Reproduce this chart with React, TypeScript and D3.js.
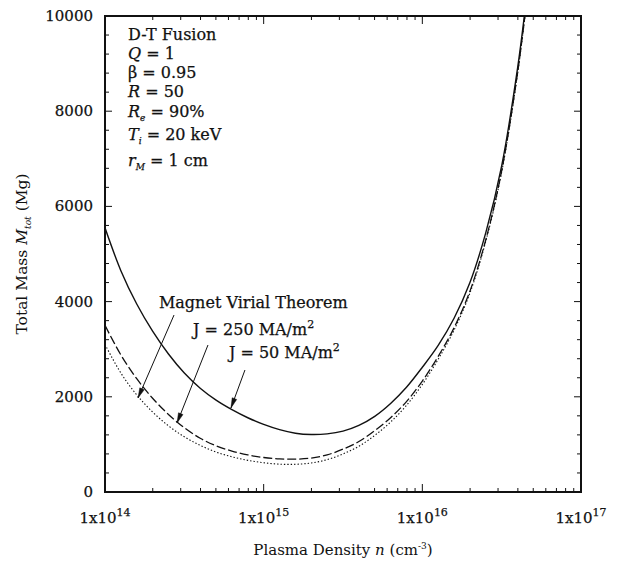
import React from "react";
import * as d3 from "d3";

// log10 of plasma density (cm^-3)
const densityExp = [14.0, 14.1, 14.2, 14.3, 14.4, 14.5, 14.6, 14.7, 14.8, 14.9, 15.0, 15.1, 15.2, 15.3, 15.4, 15.5, 15.6, 15.7, 15.8, 15.9, 16.0, 16.1, 16.2, 16.3, 16.4, 16.5, 16.6, 16.65];
// Total mass (Mg)
const massJ50 = [5550, 4650, 3950, 3380, 2900, 2500, 2180, 1930, 1730, 1560, 1420, 1310, 1235, 1208, 1222, 1280, 1400, 1590, 1860, 2200, 2620, 3080, 3650, 4400, 5450, 6850, 8900, 10200];
const massJ250 = [3500, 2880, 2380, 1970, 1630, 1350, 1130, 970, 860, 780, 725, 695, 690, 712, 780, 900, 1060, 1290, 1560, 1900, 2330, 2850, 3450, 4220, 5300, 6750, 8800, 10100];
const massVirial = [3100, 2500, 2040, 1680, 1390, 1160, 980, 840, 740, 665, 615, 585, 582, 610, 680, 800, 960, 1190, 1470, 1820, 2260, 2790, 3400, 4180, 5270, 6720, 8780, 10080];

const xTickExps = [14, 15, 16, 17];
const yTicks = [0, 2000, 4000, 6000, 8000, 10000];

// annotations (positions in data units: log10 density, mass)
const annoLabels = ["Magnet Virial Theorem", "J = 250 MA/m", "J = 50 MA/m"];
const annoSup = ["", "2", "2"];
const annoLabelPos = [[14.34, 3866], [14.555, 3298], [14.781, 2815]];
const annoArrowFrom = [[14.435, 3718], [14.649, 3088], [14.882, 2563]];
const annoArrowTip = [[14.208, 1975], [14.454, 1450], [14.794, 1765]];

const W = 624, H = 562;
const L = 105, R = 581, T = 16, B = 492;
const FONT = "'DejaVu Serif', serif";
const INK = "#111";

export default function App() {
  const x = d3.scaleLog().domain([1e14, 1e17]).range([L, R]);
  const y = d3.scaleLinear().domain([0, 10000]).range([B, T]);
  const line = d3
    .line<number>()
    .x((_, i) => x(Math.pow(10, densityExp[i])))
    .y((d) => y(d))
    .curve(d3.curveCatmullRom.alpha(0.5));

  const minorX: number[] = [];
  for (let e = 14; e < 17; e++) for (let k = 2; k <= 9; k++) minorX.push(k * Math.pow(10, e));
  const minorY = d3.range(0, 10001, 400).filter((v) => v % 2000 !== 0);

  const arrowHead = (fx: number, fy: number, tx: number, ty: number) => {
    const ang = Math.atan2(ty - fy, tx - fx);
    const len = 10, wid = 2.4;
    const bx = tx - len * Math.cos(ang), by = ty - len * Math.sin(ang);
    const px = -Math.sin(ang) * wid, py = Math.cos(ang) * wid;
    return `M${tx},${ty}L${bx + px},${by + py}L${bx - px},${by - py}Z`;
  };

  const legendLines: React.ReactNode[] = [
    <tspan>D-T Fusion</tspan>,
    <><tspan fontStyle="italic">Q</tspan><tspan> = 1</tspan></>,
    <tspan>β = 0.95</tspan>,
    <><tspan fontStyle="italic">R</tspan><tspan> = 50</tspan></>,
    <><tspan fontStyle="italic">R</tspan><tspan fontStyle="italic" fontSize="9" dy="4">e</tspan><tspan dy="-4"> = 90%</tspan></>,
    <><tspan fontStyle="italic">T</tspan><tspan fontStyle="italic" fontSize="9" dy="4">i</tspan><tspan dy="-4"> = 20 keV</tspan></>,
    <><tspan fontStyle="italic">r</tspan><tspan fontStyle="italic" fontSize="9" dy="4">M</tspan><tspan dy="-4"> = 1 cm</tspan></>,
  ];
  const legendBase = [40, 59, 78, 97, 117, 140, 166];

  return (
    <svg width={W} height={H} style={{ position: "absolute", left: 0, top: 0, background: "#fff" }} fontFamily={FONT}>
      <defs>
        <clipPath id="plotClip">
          <rect x={L} y={T} width={R - L} height={B - T} />
        </clipPath>
      </defs>
      <rect x={0} y={0} width={W} height={H} fill="#fff" />

      {/* curves */}
      <g clipPath="url(#plotClip)" fill="none" stroke={INK}>
        <path d={line(massJ50) || ""} strokeWidth={1.4} />
        <path d={line(massJ250) || ""} strokeWidth={1.3} strokeDasharray="9,3" />
        <path d={line(massVirial) || ""} strokeWidth={1.1} strokeDasharray="1.4,2" />
      </g>

      {/* ticks */}
      <g stroke={INK} strokeWidth={1}>
        {yTicks.map((v) => (
          <g key={"yt" + v}>
            <line x1={L} x2={L + 7} y1={y(v)} y2={y(v)} />
            <line x1={R} x2={R - 7} y1={y(v)} y2={y(v)} />
          </g>
        ))}
        {minorY.map((v) => (
          <g key={"ym" + v}>
            <line x1={L} x2={L + 4} y1={y(v)} y2={y(v)} />
            <line x1={R} x2={R - 4} y1={y(v)} y2={y(v)} />
          </g>
        ))}
        {xTickExps.map((e) => (
          <g key={"xt" + e}>
            <line x1={x(Math.pow(10, e))} x2={x(Math.pow(10, e))} y1={B} y2={B - 8} />
            <line x1={x(Math.pow(10, e))} x2={x(Math.pow(10, e))} y1={T} y2={T + 8} />
          </g>
        ))}
        {minorX.map((v, i) => (
          <g key={"xm" + i}>
            <line x1={x(v)} x2={x(v)} y1={B} y2={B - 4} />
            <line x1={x(v)} x2={x(v)} y1={T} y2={T + 4} />
          </g>
        ))}
      </g>

      {/* frame */}
      <rect x={L} y={T} width={R - L} height={B - T} fill="none" stroke={INK} strokeWidth={2} />

      {/* y tick labels */}
      <g fontSize={15} fill={INK} stroke={INK} strokeWidth={0.25} textAnchor="end">
        {yTicks.map((v) => (
          <text key={"yl" + v} x={L - 12} y={y(v) + 5}>{v}</text>
        ))}
      </g>

      {/* x tick labels */}
      <g fontSize={15} fill={INK} stroke={INK} strokeWidth={0.25} textAnchor="middle">
        {xTickExps.map((e) => (
          <text key={"xl" + e} x={x(Math.pow(10, e))} y={523}>
            1x10<tspan fontSize={11} dy={-7}>{e}</tspan>
          </text>
        ))}
      </g>

      {/* axis titles */}
      <text x={(L + R) / 2} y={555} fontSize={15} textAnchor="middle" fill={INK}>
        Plasma Density <tspan fontStyle="italic">n</tspan> (cm<tspan fontSize={9} dy={-6}>-3</tspan><tspan dy={6}>)</tspan>
      </text>
      <text transform={`translate(27,${(T + B) / 2}) rotate(-90)`} fontSize={15.5} textAnchor="middle" fill={INK}>
        Total Mass <tspan fontStyle="italic">M</tspan><tspan fontStyle="italic" fontSize={9} dy={4}>tot</tspan><tspan dy={-4}> (Mg)</tspan>
      </text>

      {/* parameter legend */}
      <g fontSize={16} fill={INK} stroke={INK} strokeWidth={0.25}>
        {legendLines.map((c, i) => (
          <text key={"lg" + i} x={128} y={legendBase[i]}>{c}</text>
        ))}
      </g>

      {/* annotations */}
      <g fontSize={16} fill={INK} stroke={INK} strokeWidth={0.25}>
        {annoLabels.map((lab, i) => (
          <text key={"al" + i} x={x(Math.pow(10, annoLabelPos[i][0]))} y={y(annoLabelPos[i][1])}>
            {lab}
            {annoSup[i] && <tspan fontSize={11} dy={-7}>{annoSup[i]}</tspan>}
          </text>
        ))}
      </g>
      <g stroke={INK} fill={INK}>
        {annoArrowFrom.map((f, i) => {
          const fx = x(Math.pow(10, f[0])), fy = y(f[1]);
          const tx = x(Math.pow(10, annoArrowTip[i][0])), ty = y(annoArrowTip[i][1]);
          return (
            <g key={"ar" + i}>
              <line x1={fx} y1={fy} x2={tx} y2={ty} strokeWidth={1} />
              <path d={arrowHead(fx, fy, tx, ty)} strokeWidth={0.5} />
            </g>
          );
        })}
      </g>
    </svg>
  );
}
